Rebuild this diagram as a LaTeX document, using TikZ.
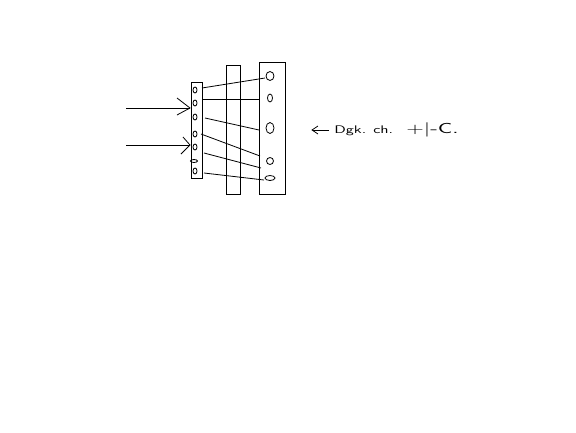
\documentclass[tikz,border=0pt]{standalone}
\usepackage{tikz}
\usetikzlibrary{shapes.geometric}

\tikzset{
  strip/.style={draw,thick,minimum width=#1,inner sep=0pt},
  hole/.style={draw,ellipse,inner sep=0pt,minimum width=4pt,minimum height=6pt},
}

\begin{document}
\begin{tikzpicture}[x=1pt,y=-1pt,line width=0.8pt]
    \useasboundingbox (0,0) rectangle (576,432);
    % the three plates
    \node[strip=11pt,minimum height=96pt] (lplate) at (196.5,130) {};
    \node[strip=14pt,minimum height=129pt] (mplate) at (233,129.5) {};
    \node[strip=26pt,minimum height=132pt] (rplate) at (272,128) {};
    % small holes on the left plate
    \foreach \y/\nm in {90/a,103/b,117/c,134/d,147/e,171/g}{
      \node[hole] (l\nm) at (195,\y) {};
    }
    \node[hole,minimum width=7pt,minimum height=3pt] (lf) at (194,161) {};
    % holes on the right plate
    \node[hole,minimum width=8pt,minimum height=9pt] (ra) at (270,76) {};
    \node[hole,minimum width=5pt,minimum height=8pt] (rb) at (270,98) {};
    \node[hole,minimum width=8pt,minimum height=11pt] (rc) at (270,128) {};
    \node[hole,minimum width=7pt,minimum height=7pt] (rd) at (270,161) {};
    \node[hole,minimum width=10pt,minimum height=5pt] (re) at (270,178) {};
    % rays through the plates
    \coordinate (s1) at (202,88);   \coordinate (t1) at (265,78);
    \coordinate (s2) at (202,99);   \coordinate (t2) at (259,99);
    \coordinate (s3) at (205,118);  \coordinate (t3) at (259,130);
    \coordinate (s4) at (201,134);  \coordinate (t4) at (260,156);
    \coordinate (s5) at (204,153);  \coordinate (t5) at (261,168);
    \coordinate (s6) at (204,173);  \coordinate (t6) at (264,180);
    \foreach \i in {1,...,6}{
      \draw (s\i) -- (t\i);
    }
    % incoming beams
    \coordinate (in1) at (126,108);  \coordinate (tip1) at (190,108);
    \coordinate (in2) at (126,145);  \coordinate (tip2) at (190,145);
    \draw (in1) -- (tip1);
    \draw (177,98) -- (tip1) -- (177,115);
    \draw (in2) -- (tip2);
    \draw (183,137) -- (tip2) -- (181,154);
    % note on the right
    \coordinate (na) at (329,130);
    \node[font=\sffamily,anchor=west,inner sep=0pt] (note) at (334,131) {\scalebox{1.6}[1.1]{Dgk. ch.}};
    \draw (na) -- (313,130);
    \draw (318,126) -- (312,130) -- (318,134);
    \node[font=\Large\sffamily,anchor=west,inner sep=0pt] (mark) at (406,130) {\scalebox{1.6}[1]{+|-C.}};
\end{tikzpicture}
\end{document}
